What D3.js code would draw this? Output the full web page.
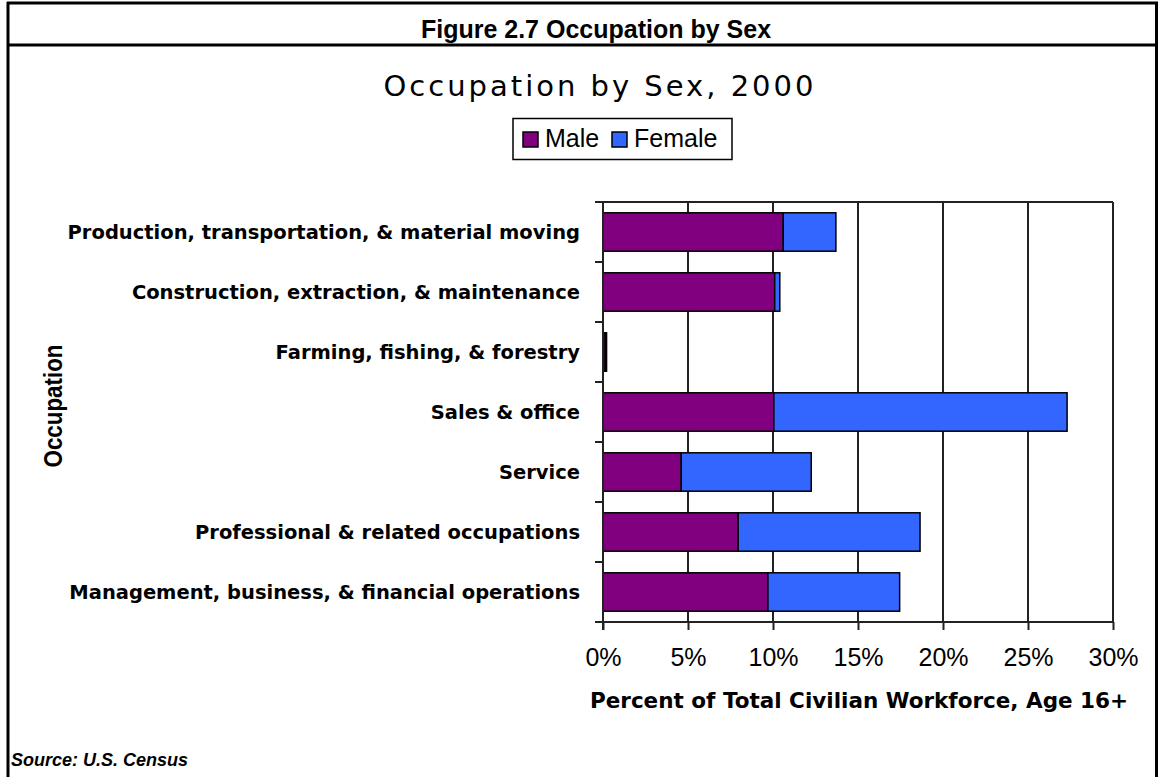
<!DOCTYPE html>
<html>
<head>
<meta charset="utf-8">
<script src="https://cdn.jsdelivr.net/npm/d3@7"></script>
<style>
  body { margin: 0; background: #fff; }
  svg { display: block; }
</style>
</head>
<body>
<div id="chart"></div>
<script>
// categories from top to bottom, values in percent of total civilian workforce
let categories = [
  'Production, transportation, & material moving',
  'Construction, extraction, & maintenance',
  'Farming, fishing, & forestry',
  'Sales & office',
  'Service',
  'Professional & related occupations',
  'Management, business, & financial operations'
];
let maleValues = [10.6, 10.1, 0.13, 10.05, 4.6, 7.95, 9.7];
let femaleValues = [3.1, 0.3, 0.08, 17.25, 7.65, 10.7, 7.75];
let xTicks = [0, 5, 10, 15, 20, 25, 30];
let seriesNames = ['Male', 'Female'];

let width = 1158, height = 777;
let margin = {top: 202, right: 45, bottom: 155, left: 603};
let color_male = '#800080', color_female = '#3366ff';

let svg = d3.select('#chart')
            .append('svg')
            .attr('width', width)
            .attr('height', height);

// outer frame
svg.append('line').attr('x1', 8).attr('x2', 8).attr('y1', 2).attr('y2', height)
   .attr('stroke', '#000').attr('stroke-width', 3);
svg.append('line').attr('x1', 1156.5).attr('x2', 1156.5).attr('y1', 2).attr('y2', height)
   .attr('stroke', '#000').attr('stroke-width', 3);
svg.append('line').attr('x1', 7).attr('x2', width).attr('y1', 3).attr('y2', 3)
   .attr('stroke', '#000').attr('stroke-width', 3);
svg.append('line').attr('x1', 7).attr('x2', width).attr('y1', 45).attr('y2', 45)
   .attr('stroke', '#000').attr('stroke-width', 3);

svg.append('text')
   .attr('x', 596).attr('y', 38)
   .attr('text-anchor', 'middle')
   .attr('font-family', 'Liberation Sans, Arial, sans-serif')
   .attr('font-weight', 'bold')
   .attr('font-size', '25px')
   .text('Figure 2.7 Occupation by Sex');

svg.append('text')
   .attr('x', 600).attr('y', 96)
   .attr('text-anchor', 'middle')
   .attr('font-family', 'DejaVu Sans, sans-serif')
   .attr('font-size', '29px')
   .attr('letter-spacing', '3px')
   .text('Occupation by Sex, 2000');

let x = d3.scaleLinear()
          .domain([0, 30])
          .range([margin.left, width - margin.right]);

let y = d3.scaleBand()
          .domain(categories)
          .range([margin.top, height - margin.bottom])
          .paddingInner(0.36)
          .paddingOuter(0.18);

let plotTop = margin.top, plotBottom = height - margin.bottom;

// gridlines and plot frame
svg.append('g')
   .selectAll('line')
   .data(xTicks.filter(d => d > 0))
   .enter().append('line')
   .attr('x1', d => x(d)).attr('x2', d => x(d))
   .attr('y1', plotTop).attr('y2', plotBottom)
   .attr('stroke', '#222')
   .attr('stroke-width', 2);

svg.append('line')
   .attr('x1', margin.left - 8).attr('x2', x(30))
   .attr('y1', plotTop).attr('y2', plotTop)
   .attr('stroke', '#222').attr('stroke-width', 2);

// stacked bars
let stackData = categories.map((c, i) => ({cat: c, Male: maleValues[i], Female: femaleValues[i]}));
let stacked = d3.stack().keys(seriesNames)(stackData);
let colors = d3.scaleOrdinal().domain(seriesNames).range([color_male, color_female]);

svg.append('g')
   .selectAll('g')
   .data(stacked)
   .enter().append('g')
   .attr('fill', d => colors(d.key))
   .selectAll('rect')
   .data(d => d)
   .enter().append('rect')
   .attr('x', d => x(d[0]))
   .attr('y', d => y(d.data.cat))
   .attr('width', d => x(d[1]) - x(d[0]))
   .attr('height', y.bandwidth())
   .attr('stroke', '#000')
   .attr('stroke-width', 1.5);

// left axis with ticks between categories
let step = y.step();
let bounds = d3.range(categories.length + 1).map(i => plotTop + i * step);
svg.append('line')
   .attr('x1', margin.left).attr('x2', margin.left)
   .attr('y1', plotTop).attr('y2', plotBottom + 8)
   .attr('stroke', '#222').attr('stroke-width', 2);
svg.append('g')
   .selectAll('line')
   .data(bounds)
   .enter().append('line')
   .attr('x1', margin.left - 8).attr('x2', margin.left)
   .attr('y1', d => d).attr('y2', d => d)
   .attr('stroke', '#222').attr('stroke-width', 2);

svg.append('g')
   .selectAll('text')
   .data(categories)
   .enter().append('text')
   .attr('x', 580)
   .attr('y', d => y(d) + y.bandwidth() / 2)
   .attr('dy', '0.36em')
   .attr('text-anchor', 'end')
   .attr('font-family', 'DejaVu Sans, Verdana, sans-serif')
   .attr('font-weight', 'bold')
   .attr('font-size', '19.5px')
   .text(d => d);

// bottom axis
let xAxis = svg.append('g')
   .attr('transform', 'translate(0,' + plotBottom + ')')
   .call(d3.axisBottom(x).tickValues(xTicks).tickFormat(d => d + '%').tickSize(8).tickPadding(18));
xAxis.select('.domain').attr('stroke', '#222').attr('stroke-width', 2)
     .attr('d', 'M' + (margin.left - 8) + ',0H' + x(30));
xAxis.selectAll('.tick line').attr('stroke', '#222').attr('stroke-width', 2);
xAxis.selectAll('.tick text')
     .attr('font-family', 'Liberation Sans, Arial, sans-serif')
     .attr('font-size', '25px')
     .attr('fill', '#000');

svg.append('text')
   .attr('x', 859).attr('y', 708)
   .attr('text-anchor', 'middle')
   .attr('font-family', 'DejaVu Sans, Verdana, sans-serif')
   .attr('font-weight', 'bold')
   .attr('font-size', '21.5px')
   .text('Percent of Total Civilian Workforce, Age 16+');

svg.append('text')
   .attr('transform', 'translate(62,406) rotate(-90) scale(0.86,1)')
   .attr('text-anchor', 'middle')
   .attr('font-family', 'Liberation Sans Narrow, Arial Narrow, Liberation Sans, sans-serif')
   .attr('font-weight', 'bold')
   .attr('font-size', '26px')
   .text('Occupation');

// legend
let legend = svg.append('g');
legend.append('rect')
      .attr('x', 513).attr('y', 118.5)
      .attr('width', 219).attr('height', 41)
      .attr('fill', '#fff').attr('stroke', '#000').attr('stroke-width', 1.5);
let legendX = [523, 612];
let legendItem = legend.selectAll('g.item')
      .data(seriesNames)
      .enter().append('g')
      .attr('class', 'item')
      .attr('transform', (d, i) => 'translate(' + legendX[i] + ',0)');
legendItem.append('rect')
      .attr('x', 0).attr('y', 132)
      .attr('width', 15).attr('height', 15)
      .attr('fill', d => colors(d))
      .attr('stroke', '#000').attr('stroke-width', 1.5);
legendItem.append('text')
      .attr('x', 22).attr('y', 147)
      .attr('font-family', 'Liberation Sans, Arial, sans-serif')
      .attr('font-size', '25px')
      .text(d => d);

svg.append('text')
   .attr('x', 11).attr('y', 766)
   .attr('font-family', 'Liberation Sans, Arial, sans-serif')
   .attr('font-weight', 'bold')
   .attr('font-style', 'italic')
   .attr('font-size', '18px')
   .text('Source: U.S. Census');
</script>
</body>
</html>
